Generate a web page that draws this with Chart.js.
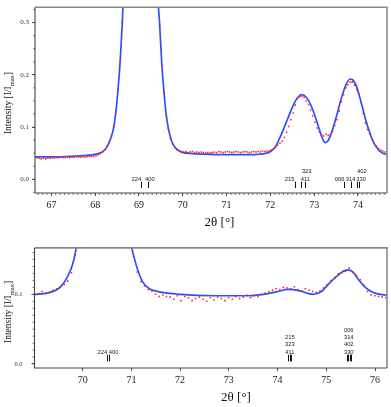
<!DOCTYPE html>
<html><head><meta charset="utf-8">
<script src="https://cdn.jsdelivr.net/npm/chart.js@4/dist/chart.umd.min.js"></script>
<style>
html,body{margin:0;padding:0;background:#fff;width:391px;height:407px;overflow:hidden}
canvas{position:absolute;left:0}
#c1{top:0}
#c2{top:235px}
</style></head><body>
<canvas id="c1" width="391" height="235"></canvas>
<canvas id="c2" width="391" height="172"></canvas>
<script>
// ---------------- DATA: top panel ----------------
const topXTicks = [67, 68, 69, 70, 71, 72, 73, 74];
const topYTicks = [0.0, 0.1, 0.2, 0.3];
const topObsStart = 66.67, topObsStep = 0.05;
const topObsY = [
0.041,0.040,0.039,0.040,0.039,0.040,0.040,0.041,0.040,0.041,
0.041,0.042,0.041,0.041,0.042,0.041,0.042,0.042,0.043,0.042,
0.042,0.043,0.042,0.043,0.043,0.044,0.044,0.045,0.047,0.049,
0.052,0.056,0.063,0.072,0.083,0.100,0.128,0.172,0.225,0.300,
0.40,0.52,0.65,0.78,0.88,0.95,0.99,1.00,0.98,0.93,0.85,0.74,0.62,0.50,0.42,0.36,
0.295,0.220,0.165,0.122,0.097,0.078,0.067,0.060,0.056,0.054,0.053,0.052,0.053,0.051,
0.052,0.053,0.051,0.052,0.051,0.052,0.051,0.050,0.051,0.050,
0.051,0.052,0.051,0.053,0.052,0.051,0.052,0.053,0.052,0.051,
0.052,0.053,0.052,0.051,0.052,0.053,
0.052,0.051,0.052,0.053,0.052,0.053,0.052,0.054,0.053,0.054,
0.054,0.056,0.058,0.061,0.065,0.069,0.073,0.080,0.090,0.101,
0.114,0.127,0.142,0.155,0.158,0.159,0.157,0.150,0.143,0.133,
0.121,0.109,0.098,0.090,0.085,0.083,0.086,0.084,0.085,0.092,
0.103,0.114,0.131,0.148,0.162,0.175,0.181,0.186,0.186,0.180,
0.172,0.163,0.148,0.126,0.108,0.095,0.086,0.077,0.069,0.064,
0.059,0.056,0.054,0.052];
const topCalcX = [66.63,67.00,67.47,67.87,68.07,68.17,68.27,68.37,68.42,68.47,
68.52,68.57,68.62,68.67,68.77,68.87,68.97,69.04,69.12,69.22,
69.32,69.42,69.47,69.52,69.57,69.62,69.67,69.72,69.77,69.87,
69.97,70.22,70.47,70.97,71.47,71.77,71.92,72.02,72.12,72.22,
72.32,72.42,72.52,72.62,72.72,72.82,72.92,73.02,73.12,73.19,
73.25,73.32,73.42,73.52,73.62,73.72,73.82,73.87,73.97,74.07,
74.17,74.27,74.37,74.47,74.57,74.67];
const topCalcY = [0.043,0.043,0.044,0.046,0.049,0.053,0.062,0.082,0.098,0.127,
0.170,0.225,0.300,0.40,0.62,0.85,0.98,1.00,0.96,0.80,
0.58,0.36,0.300,0.222,0.168,0.125,0.098,0.080,0.068,0.057,
0.052,0.049,0.048,0.047,0.047,0.048,0.050,0.054,0.063,0.080,
0.100,0.121,0.141,0.156,0.162,0.157,0.143,0.121,0.095,0.078,
0.070,0.074,0.095,0.124,0.155,0.180,0.192,0.191,0.177,0.148,
0.116,0.089,0.068,0.056,0.050,0.047];
const topReflPos = [69.04, 69.20, 72.56, 72.71, 72.80, 73.67, 73.85, 73.97, 74.02];
const topReflText = ['224','400','215','411','323','006','314','330','402'];
const topReflTextX = [68.94, 69.25, 72.44, 72.80, 72.83, 73.58, 73.83, 74.07, 74.09];
const topReflRow = [0,0,0,0,1,0,0,0,1];

// ---------------- DATA: bottom panel ----------------
const botXTicks = [70, 71, 72, 73, 74, 75, 76];
const botYTicks = [0.0, 0.1];
const botObsStart = 69.02, botObsStep = 0.075;
const botObsY = [
0.100,0.101,0.104,0.102,0.103,0.106,0.108,0.111,0.114,0.119,
0.131,0.156,0.190,0.235,0.300,0.400,0.550,0.750,0.920,1.000,
0.930,0.760,0.560,0.400,0.290,0.220,0.178,0.155,0.132,0.118,
0.112,0.107,0.105,0.100,0.097,0.099,0.097,0.096,0.093,0.098,
0.091,0.097,0.095,0.091,0.094,0.096,0.093,0.090,0.095,0.092,
0.096,0.094,0.091,0.095,0.093,0.097,0.094,0.096,0.099,0.095,
0.098,0.097,0.100,0.102,0.104,0.106,0.108,0.107,0.110,0.109,
0.108,0.111,0.107,0.105,0.108,0.106,0.104,0.103,0.105,0.109,
0.114,0.120,0.124,0.129,0.131,0.133,0.138,0.131,0.127,0.121,
0.113,0.104,0.099,0.098,0.097,0.096,0.095];
const botCalcX = [69.01,69.30,69.50,69.62,69.70,69.77,69.82,69.87,69.95,70.05,
70.20,70.35,70.45,70.55,70.70,70.85,70.95,71.00,71.06,71.13,
71.23,71.37,71.55,72.00,72.70,73.40,73.80,74.00,74.22,74.45,
74.73,74.90,75.05,75.20,75.30,75.43,75.55,75.65,75.80,75.95,
76.10,76.25];
const botCalcY = [0.100,0.102,0.108,0.117,0.127,0.138,0.150,0.167,0.21,0.30,
0.55,0.88,1.00,0.90,0.55,0.30,0.20,0.170,0.152,0.135,
0.118,0.108,0.104,0.100,0.098,0.098,0.101,0.104,0.107,0.105,
0.100,0.104,0.115,0.125,0.131,0.135,0.132,0.122,0.110,0.103,
0.100,0.099];
const botReflPos = [70.50, 70.54, 74.22, 74.25, 74.28, 75.43, 75.455, 75.48, 75.50];
const botReflText = ['224 400','411','323','215','330','402','314','006'];
const botReflTextX = [70.52, 74.25, 74.25, 74.25, 75.46, 75.46, 75.46, 75.46];
const botReflRow = [0,0,1,2,0,1,2,3];

// ---------------- helpers ----------------
const SERIF = '"Liberation Serif", "Times New Roman", serif';
const SANS = '"Liberation Sans", Arial, sans-serif';

function series(start, step, ys) { return ys.map((y, i) => ({x: +(start + i * step).toFixed(4), y})); }
function pairs(xs, ys) { return xs.map((x, i) => ({x, y: ys[i]})); }

const decorPlugin = {
  id: 'decor',
  afterDraw(chart) {
    const o = chart.options.plugins.decor;
    const ctx = chart.ctx, a = chart.chartArea;
    const xs = chart.scales.x, ys = chart.scales.y;
    ctx.save();
    // frame
    ctx.lineWidth = 1.6; ctx.strokeStyle = '#8a8a8a';
    ctx.beginPath(); ctx.moveTo(a.left, a.top); ctx.lineTo(a.right, a.top); ctx.lineTo(a.right, a.bottom); ctx.stroke();
    ctx.lineWidth = 1.1; ctx.strokeStyle = '#444';
    ctx.beginPath(); ctx.moveTo(a.left, a.top); ctx.lineTo(a.left, a.bottom); ctx.lineTo(a.right, a.bottom); ctx.stroke();
    // minor ticks
    ctx.lineWidth = 0.8; ctx.strokeStyle = '#555';
    if (o.xMinor) {
      for (let v = Math.ceil(xs.min / o.xMinor) * o.xMinor; v <= xs.max; v += o.xMinor) {
        const p = xs.getPixelForValue(v);
        ctx.beginPath(); ctx.moveTo(p, a.bottom); ctx.lineTo(p, a.bottom + 2); ctx.stroke();
      }
    }
    if (o.yMinor) {
      for (let v = Math.ceil(ys.min / o.yMinor) * o.yMinor; v <= ys.max; v += o.yMinor) {
        const p = ys.getPixelForValue(v);
        ctx.beginPath(); ctx.moveTo(a.left, p); ctx.lineTo(a.left - 2, p); ctx.stroke();
      }
    }
    // reflection marks
    ctx.lineWidth = 1; ctx.strokeStyle = '#111';
    const mb = a.bottom - o.markGap, mt = mb - o.markLen;
    o.reflPos.forEach(v => {
      const p = Math.round(xs.getPixelForValue(v)) + 0.5;
      ctx.beginPath(); ctx.moveTo(p, mb); ctx.lineTo(p, mt); ctx.stroke();
    });
    ctx.fillStyle = '#222'; ctx.font = o.labelSize + 'px ' + SANS;
    ctx.textAlign = 'center'; ctx.textBaseline = 'alphabetic';
    o.reflText.forEach((t, i) => {
      ctx.fillText(t, xs.getPixelForValue(o.reflTextX[i]), mt - 1.2 - o.reflRow[i] * o.rowH);
    });
    // x title
    ctx.fillStyle = '#111'; ctx.font = o.xTitleSize + 'px ' + SERIF;
    ctx.textAlign = 'center';
    ctx.fillText('2θ [°]', o.xTitleX, o.xTitleY);
    // y title with subscript
    ctx.translate(o.yTitleX, (a.top + a.bottom) / 2 + o.yTitleDy);
    ctx.rotate(-Math.PI / 2);
    const parts = [['Intensity [I/I', o.yTitleSize, 0], ['max', o.yTitleSize * 0.68, 2.3], [']', o.yTitleSize, 0]];
    let total = 0;
    parts.forEach(p => { ctx.font = p[1] + 'px ' + SERIF; p.w = ctx.measureText(p[0]).width; total += p.w; });
    let x = -total / 2;
    ctx.textAlign = 'left';
    parts.forEach(p => { ctx.font = p[1] + 'px ' + SERIF; ctx.fillText(p[0], x, p[2]); x += p.w; });
    ctx.restore();
  }
};

function makeChart(id, o) {
  return new Chart(document.getElementById(id), {
    type: 'scatter',
    data: { datasets: [
      { data: o.obs, showLine: false, pointStyle: 'rect', pointRadius: 1.1, pointBorderWidth: 0,
        pointBackgroundColor: 'rgba(255,25,25,0.95)' },
      { data: o.calc, showLine: true, pointRadius: 0, borderColor: '#2d50ff', borderWidth: 1.7,
        cubicInterpolationMode: 'monotone', fill: false }
    ]},
    options: {
      responsive: false, animation: false, events: [],
      layout: { padding: o.pad },
      plugins: { legend: { display: false }, tooltip: { enabled: false }, decor: o.decor },
      scales: {
        x: {
          type: 'linear', min: o.xMin, max: o.xMax,
          afterFit(s) { s.height = o.xAxisH; },
          afterBuildTicks(s) { s.ticks = o.xTicks.map(v => ({ value: v })); },
          ticks: { font: { family: SERIF, size: 10 }, color: '#222', padding: 3, maxRotation: 0, autoSkip: false,
                   callback: v => String(v) },
          grid: { display: true, drawOnChartArea: false, drawTicks: true, tickLength: 3, color: '#444', tickWidth: 1 },
          border: { display: false }
        },
        y: {
          type: 'linear', min: o.yMin, max: o.yMax,
          afterFit(s) { s.width = o.yAxisW; },
          afterBuildTicks(s) { s.ticks = o.yTicks.map(v => ({ value: v })); },
          ticks: { font: { family: SERIF, size: o.yTickSize }, color: '#333', padding: o.yTickPad, autoSkip: false,
                   callback: v => v.toFixed(1) },
          grid: { display: true, drawOnChartArea: false, drawTicks: true, tickLength: 3, color: '#444', tickWidth: 1 },
          border: { display: false }
        }
      }
    },
    plugins: [decorPlugin]
  });
}

makeChart('c1', {
  obs: series(topObsStart, topObsStep, topObsY),
  calc: pairs(topCalcX, topCalcY),
  xMin: 66.626, xMax: 74.663, yMin: -0.0264, yMax: 0.3296,
  xTicks: topXTicks, yTicks: topYTicks,
  pad: { left: 0, top: 4, right: 1, bottom: 0 }, xAxisH: 42, yAxisW: 35,
  yTickSize: 7, yTickPad: 3,
  decor: { xMinor: 0.1, yMinor: 0.025, reflPos: topReflPos, reflText: topReflText, reflTextX: topReflTextX,
           reflRow: topReflRow, markGap: 5, markLen: 6.3, rowH: 7.3, labelSize: 5.8,
           xTitleX: 219.5, xTitleY: 226, xTitleSize: 13, yTitleX: 11.3, yTitleDy: 3, yTitleSize: 9.5 }
});

makeChart('c2', {
  obs: series(botObsStart, botObsStep, botObsY),
  calc: pairs(botCalcX, botCalcY),
  xMin: 69.012, xMax: 76.245, yMin: -0.0058, yMax: 0.1667,
  xTicks: botXTicks, yTicks: botYTicks,
  pad: { left: 0, top: 9, right: 2, bottom: 0 }, xAxisH: 39, yAxisW: 34.5,
  yTickSize: 6.5, yTickPad: 9,
  decor: { xMinor: 0, yMinor: 0.01, reflPos: botReflPos, reflText: botReflText, reflTextX: botReflTextX,
           reflRow: botReflRow, markGap: 6.6, markLen: 6.7, rowH: 7.3, labelSize: 5.8,
           xTitleX: 236, xTitleY: 166, xTitleSize: 13, yTitleX: 11.3, yTitleDy: 4, yTitleSize: 9.5 }
});
</script>
</body></html>
